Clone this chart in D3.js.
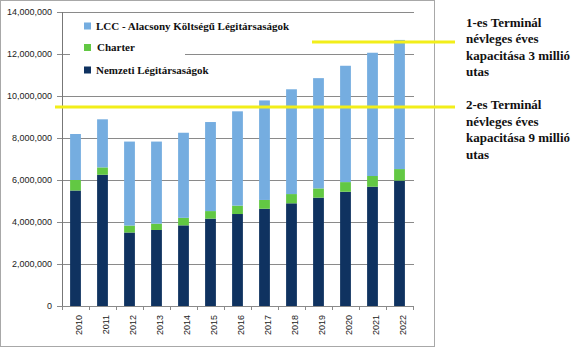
<!DOCTYPE html>
<html>
<head>
<meta charset="utf-8">
<script src="https://cdn.jsdelivr.net/npm/d3@7"></script>
<style>
  html, body { margin: 0; padding: 0; background: #fff; }
  svg { display: block; }
</style>
</head>
<body>
<svg id="chart" width="588" height="348"></svg>
<script>
const years = ["2010","2011","2012","2013","2014","2015","2016","2017","2018","2019","2020","2021","2022"];
const nemzeti = [5500000, 6250000, 3500000, 3620000, 3840000, 4160000, 4380000, 4630000, 4890000, 5160000, 5440000, 5680000, 5970000];
const charter = [500000, 350000, 330000, 300000, 360000, 360000, 400000, 420000, 440000, 440000, 460000, 510000, 550000];
const lcc = [2190000, 2290000, 4000000, 3910000, 4050000, 4240000, 4490000, 4740000, 4990000, 5250000, 5540000, 5870000, 6150000];
const yTicks = [0, 2000000, 4000000, 6000000, 8000000, 10000000, 12000000, 14000000];
const seriesNames = ["Nemzeti Légitársaságok", "Charter", "LCC - Alacsony Költségű Légitársaságok"];
const seriesColors = ["#0f3260", "#62c843", "#75ade0"];
const capacityLines = [
  { value: 12570000, text: ["1-es Terminál", "névleges éves", "kapacitása 3 millió", "utas"] },
  { value: 9480000, text: ["2-es Terminál", "névleges éves", "kapacitása 9 millió", "utas"] }
];

(function () {
const svg = d3.select("#chart");
const pLeft = 62, pRight = 413, pTop = 12, pBottom = 306;

// outer frame
svg.append("rect").attr("x", 0.5).attr("y", 0.5).attr("width", 434).attr("height", 346)
  .attr("fill", "#fff").attr("stroke", "#a8a8a8");

const x = d3.scaleBand().domain(years).range([pLeft, pRight]).paddingInner(0.6).paddingOuter(0.3);
const y = d3.scaleLinear().domain([0, 14000000]).range([pBottom, pTop]);

// gridlines
svg.append("g").selectAll("line").data(yTicks).join("line")
  .attr("x1", pLeft - 5).attr("x2", pRight + 1)
  .attr("y1", d => Math.round(y(d)) + 0.5).attr("y2", d => Math.round(y(d)) + 0.5)
  .attr("stroke", "#8a8a8a").attr("stroke-width", 1);

// y labels
svg.append("g").selectAll("text").data(yTicks).join("text")
  .attr("x", 52).attr("y", d => y(d)).attr("dy", "0.35em")
  .attr("text-anchor", "end")
  .attr("font-family", "Liberation Sans, Arial, sans-serif").attr("font-size", 9)
  .attr("fill", "#222")
  .text(d => d3.format(",")(d));

// legend background (hides part of gridline)
svg.append("rect").attr("x", 70).attr("y", 14).attr("width", 115).attr("height", 76).attr("fill", "#fff");

// stacked bars
const table = years.map((yr, i) => ({ year: yr, n: nemzeti[i], c: charter[i], l: lcc[i] }));
const stack = d3.stack().keys(["n", "c", "l"])(table);
svg.append("g").selectAll("g").data(stack).join("g")
  .attr("fill", (d, i) => seriesColors[i])
  .selectAll("rect").data(d => d).join("rect")
  .attr("x", d => x(d.data.year))
  .attr("width", x.bandwidth())
  .attr("y", d => y(d[1]))
  .attr("height", d => y(d[0]) - y(d[1]));

// y axis line
svg.append("line").attr("x1", pLeft + 0.5).attr("x2", pLeft + 0.5).attr("y1", pTop).attr("y2", pBottom + 1)
  .attr("stroke", "#777");

// x ticks at band boundaries
const step = x.step();
const bounds = years.map((d, i) => x(d) - x.paddingInner() * step / 2).concat([pRight]);
svg.append("g").selectAll("line").data(bounds).join("line")
  .attr("x1", d => Math.round(d) + 0.5).attr("x2", d => Math.round(d) + 0.5)
  .attr("y1", pBottom).attr("y2", pBottom + 4)
  .attr("stroke", "#8a8a8a");

// x labels
svg.append("g").selectAll("text").data(years).join("text")
  .attr("transform", d => `translate(${x(d) + x.bandwidth() / 2 + 3},${pBottom + 9}) rotate(-90)`)
  .attr("text-anchor", "end").attr("dy", "0.35em")
  .attr("font-family", "Liberation Sans, Arial, sans-serif").attr("font-size", 9)
  .attr("fill", "#222")
  .text(d => d);

// legend
const legendItems = [
  { name: seriesNames[2], color: seriesColors[2] },
  { name: seriesNames[1], color: seriesColors[1] },
  { name: seriesNames[0], color: seriesColors[0] }
];
const legendY = [26, 47.5, 70];
const lg = svg.append("g");
legendItems.forEach((d, i) => {
  lg.append("rect").attr("x", 84).attr("y", legendY[i] - 3.5).attr("width", 7).attr("height", 7).attr("fill", d.color);
  lg.append("text").attr("x", i === 1 ? 97 : 96).attr("y", legendY[i]).attr("dy", "0.35em")
    .attr("font-family", "Liberation Serif, Times New Roman, serif").attr("font-weight", "bold")
    .attr("font-size", 11).attr("fill", "#111").text(d.name);
});

// capacity lines
const lineStart = [312, 55];
capacityLines.forEach((c, i) => {
  svg.append("line").attr("x1", lineStart[i]).attr("x2", 455)
    .attr("y1", y(c.value)).attr("y2", y(c.value))
    .attr("stroke", "#f2ee1a").attr("stroke-width", 3);
});

// annotation texts
const textTops = [22, 104.5];
capacityLines.forEach((c, i) => {
  const t = svg.append("text").attr("font-family", "Liberation Serif, Times New Roman, serif")
    .attr("font-weight", "bold").attr("font-size", 13).attr("fill", "#111");
  c.text.forEach((line, j) => {
    t.append("tspan").attr("x", 466).attr("y", textTops[i] + j * 16.6).attr("dy", "0.35em").text(line);
  });
});
})();
</script>
</body>
</html>
